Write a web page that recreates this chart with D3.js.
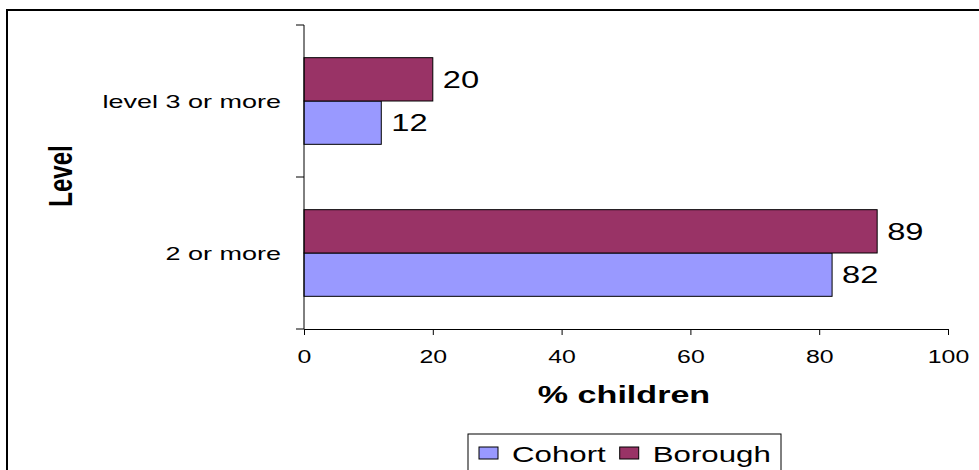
<!DOCTYPE html>
<html>
<head>
<meta charset="utf-8">
<script src="https://cdn.jsdelivr.net/npm/d3@7"></script>
<style>
  html, body { margin: 0; padding: 0; background: #fff; }
  svg { display: block; }
  text { font-family: "Liberation Sans", Arial, sans-serif; fill: #000; }
</style>
</head>
<body>
<svg id="chart" width="979" height="470"></svg>
<script>
// ---- data ----
const categories = ["level 3 or more", "2 or more"];      // top to bottom
const seriesNames = ["Cohort", "Borough"];
const cohortValues = [12, 82];
const boroughValues = [20, 89];
const xTicks = [0, 20, 40, 60, 80, 100];
const xTitle = "% children";
const yTitle = "Level";
const seriesColors = ["#9999FF", "#993366"];

// ---- layout ----
const SX = 1.42; // horizontal text stretch of the original picture
const svg = d3.select("#chart");
const plot = { left: 304, right: 948, top: 25, bottom: 329 };

// outer frame
svg.append("rect").attr("x", 7).attr("y", 10).attr("width", 1000).attr("height", 500)
  .attr("fill", "#fff").attr("stroke", "#000").attr("stroke-width", 2);

const x = d3.scaleLinear().domain([0, 100]).range([plot.left, plot.right]);
const y = d3.scaleBand().domain(categories).range([plot.top, plot.bottom])
  .paddingInner(0.43).paddingOuter(0.215);
const ySub = d3.scaleBand().domain(["Borough", "Cohort"]).range([0, y.bandwidth()]);

const rows = categories.map((c, i) => ({ cat: c, Cohort: cohortValues[i], Borough: boroughValues[i] }));
const color = d3.scaleOrdinal().domain(seriesNames).range(seriesColors);

// bars
const g = svg.append("g");
rows.forEach(r => {
  seriesNames.forEach(s => {
    const by = y(r.cat) + ySub(s);
    g.append("rect")
      .attr("x", x(0)).attr("y", by)
      .attr("width", x(r[s]) - x(0)).attr("height", ySub.bandwidth())
      .attr("fill", color(s)).attr("stroke", "#000").attr("stroke-width", 1);
    g.append("text")
      .attr("transform", `translate(${x(r[s]) + 10},${by + ySub.bandwidth() / 2 + 8.5}) scale(${SX},1)`)
      .attr("font-size", 23)
      .text(r[s]);
  });
});

// x axis
const xAxis = svg.append("g").attr("transform", `translate(0,${plot.bottom})`)
  .call(d3.axisBottom(x).tickValues(xTicks).tickSizeInner(6).tickSizeOuter(0).tickFormat(d3.format("d")));
xAxis.select(".domain").attr("stroke", "#000");
xAxis.selectAll(".tick line").attr("stroke", "#000");
xAxis.selectAll(".tick text")
  .attr("y", null).attr("dy", null)
  .attr("transform", `translate(0,34) scale(${SX},1)`)
  .attr("font-size", 17.5).attr("font-family", "Liberation Sans, Arial, sans-serif").attr("fill", "#000");

// y axis (ticks at band boundaries)
const yBounds = [plot.top].concat(categories.map(c => y(c) - y.step() * 0.215 + y.step()));
svg.append("line").attr("x1", plot.left).attr("x2", plot.left)
  .attr("y1", plot.top).attr("y2", plot.bottom).attr("stroke", "#000");
yBounds.forEach(b => {
  svg.append("line").attr("x1", plot.left - 8).attr("x2", plot.left)
    .attr("y1", b).attr("y2", b).attr("stroke", "#000");
});
categories.forEach(c => {
  svg.append("text")
    .attr("transform", `translate(281,${y(c) + y.bandwidth() / 2 + 7}) scale(${SX},1)`)
    .attr("text-anchor", "end").attr("font-size", 19)
    .text(c);
});

// axis titles
svg.append("text")
  .attr("transform", `translate(${(plot.left + plot.right) / 2 - 2},403) scale(${SX},1)`)
  .attr("text-anchor", "middle").attr("font-size", 24).attr("font-weight", "bold")
  .text(xTitle);
svg.append("text")
  .attr("transform", `translate(72,176) scale(${SX},1) rotate(-90)`)
  .attr("text-anchor", "middle").attr("font-size", 24).attr("font-weight", "bold")
  .text(yTitle);

// legend
const lg = svg.append("g");
lg.append("rect").attr("x", 468).attr("y", 434).attr("width", 313).attr("height", 60)
  .attr("fill", "#fff").attr("stroke", "#000").attr("stroke-width", 1);
let lx = 479;
seriesNames.forEach(s => {
  lg.append("rect").attr("x", lx).attr("y", 447).attr("width", 19).attr("height", 12)
    .attr("fill", color(s)).attr("stroke", "#000").attr("stroke-width", 1);
  const t = lg.append("text")
    .attr("transform", `translate(${lx + 33},462) scale(${SX},1)`)
    .attr("font-size", 22).text(s);
  const w = t.node().getComputedTextLength() * SX;
  lx = lx + 33 + w + 14;
});
</script>
</body>
</html>
